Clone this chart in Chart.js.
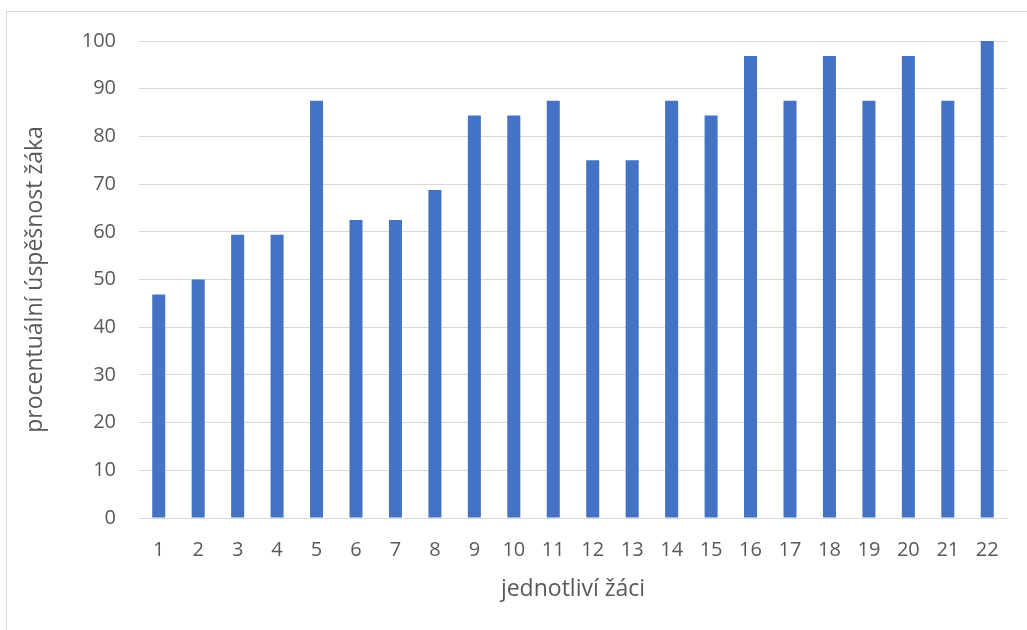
<!DOCTYPE html>
<html><head><meta charset="utf-8">
<script src="https://cdn.jsdelivr.net/npm/chart.js@4/dist/chart.umd.min.js"></script>
<style>
html,body{margin:0;padding:0;background:#fff;overflow:hidden;}
#frame{position:absolute;left:6px;top:11px;width:1030px;height:640px;border:1px solid #d9d9d9;box-sizing:border-box;}
#wrap{position:absolute;left:0;top:0;width:1027px;height:630px;}
</style></head>
<body>
<div id="frame"></div>
<div id="wrap"><canvas id="c" width="1027" height="630"></canvas></div>
<script>
const categories = ["1","2","3","4","5","6","7","8","9","10","11","12","13","14","15","16","17","18","19","20","21","22"];
const values = [46.875,50,59.375,59.375,87.5,62.5,62.5,68.75,84.375,84.375,87.5,75,75,87.5,84.375,96.875,87.5,96.875,87.5,96.875,87.5,100];
const yTicks = [0,10,20,30,40,50,60,70,80,90,100];
const xTitle = "jednotliví žáci";
const yTitle = "procentuální úspěšnost žáka";

const FAM = "'Open Sans', 'Liberation Sans', sans-serif";
const font = {family: FAM, size: 20};
const titles = {
  id: 'titles',
  afterDraw(chart) {
    const ctx = chart.ctx, a = chart.chartArea;
    ctx.save();
    ctx.fillStyle = '#595959';
    ctx.font = '23px ' + FAM;
    ctx.textAlign = 'center';
    ctx.textBaseline = 'middle';
    ctx.fillText(xTitle, (a.left + a.right) / 2, 589);
    ctx.translate(35, (a.top + a.bottom) / 2);
    ctx.rotate(-Math.PI / 2);
    ctx.fillText(yTitle, 0, 0);
    ctx.restore();
  }
};
new Chart(document.getElementById('c'), {
  type: 'bar',
  data: {labels: categories, datasets: [{data: values, backgroundColor: '#4472c4', barPercentage: 1, categoryPercentage: 0.33}]},
  options: {
    responsive: false, animation: false,
    layout: {padding: {left: 0, top: 41, right: 20, bottom: 0}},
    plugins: {legend: {display: false}, tooltip: {enabled: false}},
    scales: {
      x: {
        grid: {display: false, drawTicks: false},
        border: {display: true, color: '#d9d9d9', width: 1},
        ticks: {color: '#595959', font: font, padding: 20, maxRotation: 0, autoSkip: false},
        afterFit: s => { s.height = 112; }
      },
      y: {
        min: 0, max: 100,
        afterBuildTicks: s => { s.ticks = yTicks.map(v => ({value: v})); },
        grid: {color: '#d9d9d9', lineWidth: 1, drawTicks: false},
        border: {display: false},
        ticks: {color: '#595959', font: font, padding: 23},
        afterFit: s => { s.width = 139; }
      }
    }
  },
  plugins: [titles]
});
</script>
</body></html>
